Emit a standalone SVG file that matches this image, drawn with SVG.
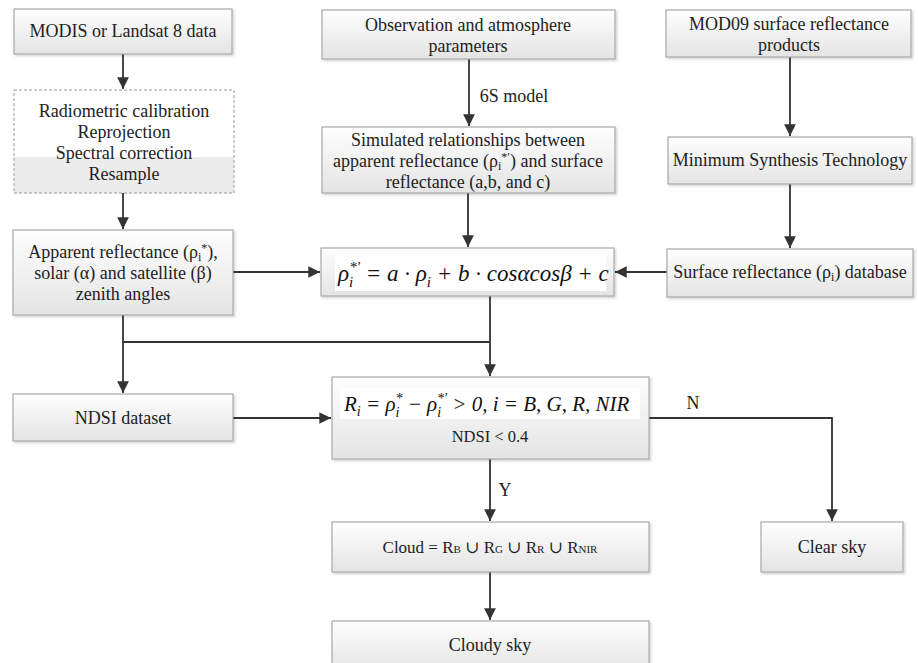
<svg xmlns="http://www.w3.org/2000/svg" width="918" height="663" viewBox="0 0 918 663">
<style>
.t{font-family:"Liberation Serif","DejaVu Serif",serif;font-size:18px;fill:#222;text-anchor:middle}
.m{font-family:"Liberation Serif","DejaVu Serif",serif;font-size:23px;font-style:italic;fill:#111}
.box{fill:url(#g);stroke:#a8a8a8;stroke-width:1.2;filter:url(#sh)}
.ln{fill:none;stroke:#333;stroke-width:1.8}
.ar{fill:none;stroke:#333;stroke-width:1.8;marker-end:url(#ah)}
</style>
<defs>
<linearGradient id="g" x1="0" y1="0" x2="0" y2="1">
<stop offset="0" stop-color="#fefefe"/>
<stop offset="1" stop-color="#e4e4e4"/>
</linearGradient>
<filter id="sh" x="-5%" y="-10%" width="112%" height="130%">
<feDropShadow dx="1.5" dy="1.5" stdDeviation="1" flood-color="#000" flood-opacity="0.18"/>
</filter>
<marker id="ah" viewBox="0 0 10 10" refX="10" refY="5" markerWidth="6.5" markerHeight="6.5" orient="auto" markerUnits="strokeWidth">
<path d="M0,0 L10,5 L0,10 z" fill="#333"/>
</marker>
</defs>
<rect width="918" height="663" fill="#fff"/>

<g id="connectors">
<path class="ar" d="M123,54 V89"/>
<path class="ar" d="M123,193 V229"/>
<path class="ar" d="M233,272 H320"/>
<path class="ar" d="M469,59 V126"/>
<path class="ar" d="M468,193 V247"/>
<path class="ar" d="M790,57 V136"/>
<path class="ar" d="M790,184 V248"/>
<path class="ar" d="M667,272 H615"/>
<path class="ar" d="M123,315 V393"/>
<path class="ln" d="M123,342 H490"/>
<path class="ar" d="M490,296 V376"/>
<path class="ar" d="M233,418 H331"/>
<path class="ar" d="M649,418 H832 V521"/>
<path class="ar" d="M490,459 V521"/>
<path class="ar" d="M490,572 V620"/>
<text class="t" x="514" y="102">6S model</text>
<text class="t" x="693" y="409">N</text>
<text class="t" x="505" y="496">Y</text>
</g>

<g id="n-modis">
<rect class="box" x="14" y="9" width="218" height="45"/>
<text class="t" x="123" y="37">MODIS or Landsat 8 data</text>
</g>

<g id="n-preprocess">
<rect x="14" y="157" width="220" height="36" fill="#ececec"/>
<rect x="14" y="90" width="220" height="103" fill="none" stroke="#999" stroke-width="1" stroke-dasharray="3,2"/>
<text class="t" x="124" y="117">Radiometric calibration</text>
<text class="t" x="124" y="138">Reprojection</text>
<text class="t" x="124" y="159">Spectral correction</text>
<text class="t" x="124" y="180">Resample</text>
</g>

<g id="n-apparent">
<rect class="box" x="13" y="230" width="220" height="85"/>
<text class="t" x="123" y="258">Apparent reflectance (ρ<tspan font-size="12" dy="3">i</tspan><tspan font-size="12" dy="-9">*</tspan><tspan dy="6">),</tspan></text>
<text class="t" x="123" y="279">solar (α) and satellite (β)</text>
<text class="t" x="123" y="300">zenith angles</text>
</g>

<g id="n-obs">
<rect class="box" x="322" y="10" width="293" height="49"/>
<text class="t" x="468" y="31">Observation and atmosphere</text>
<text class="t" x="468" y="52">parameters</text>
</g>

<g id="n-sim">
<rect class="box" x="322" y="127" width="293" height="66"/>
<text class="t" x="468" y="146">Simulated relationships between</text>
<text class="t" x="468" y="167">apparent reflectance (ρ<tspan font-size="12" dy="3">i</tspan><tspan font-size="12" dy="-9">*′</tspan><tspan dy="6">) and surface</tspan></text>
<text class="t" x="468" y="188">reflectance (a,b, and c)</text>
</g>

<g id="n-mod09">
<rect class="box" x="666" y="10" width="245" height="47"/>
<text class="t" x="789" y="30">MOD09 surface  reflectance</text>
<text class="t" x="789" y="51">products</text>
</g>

<g id="n-mst">
<rect class="box" x="668" y="137" width="244" height="47"/>
<text class="t" x="790" y="166">Minimum Synthesis Technology</text>
</g>

<g id="n-surface">
<rect class="box" x="667" y="249" width="246" height="48"/>
<text class="t" x="790" y="278">Surface reflectance (ρ<tspan font-size="12" dy="3">i</tspan><tspan dy="-3">) database</tspan></text>
</g>

<g id="n-formula">
<rect class="box" x="321" y="248" width="293" height="48"/>
<rect x="335" y="254" width="271" height="37" fill="#fff"/>
<text class="m" x="338" y="281">ρ<tspan font-size="15" dy="6">i</tspan><tspan font-size="15" dx="-4" dy="-15">*′</tspan><tspan dy="9"> = a · ρ</tspan><tspan font-size="15" dy="6">i</tspan><tspan dy="-6"> + b · cosαcosβ + c</tspan></text>
</g>

<g id="n-ndsi">
<rect class="box" x="13" y="394" width="220" height="47"/>
<text class="t" x="123" y="424">NDSI  dataset</text>
</g>

<g id="n-decision">
<rect class="box" x="332" y="377" width="317" height="82"/>
<rect x="340" y="388" width="300" height="31" fill="#fff"/>
<text class="m" x="344" y="411" style="font-size:21px">R<tspan font-size="14" dy="5">i</tspan><tspan dy="-5"> = ρ</tspan><tspan font-size="14" dy="6">i</tspan><tspan font-size="14" dx="-4" dy="-14">*</tspan><tspan dy="8"> − ρ</tspan><tspan font-size="14" dy="6">i</tspan><tspan font-size="14" dx="-4" dy="-14">*′</tspan><tspan dy="8"> &gt; 0, i = B, G, R, NIR</tspan></text>
<text class="t" x="490" y="442" style="font-size:16.5px">NDSI &lt; 0.4</text>
</g>

<g id="n-cloud">
<rect class="box" x="332" y="522" width="317" height="50"/>
<text class="t" x="490" y="553" style="font-size:17px">Cloud = R<tspan font-size="11">B</tspan> ∪  R<tspan font-size="11">G</tspan> ∪  R<tspan font-size="11">R</tspan> ∪  R<tspan font-size="11">NIR</tspan></text>
</g>

<g id="n-clear">
<rect class="box" x="761" y="522" width="142" height="50"/>
<text class="t" x="832" y="553">Clear sky</text>
</g>

<g id="n-cloudy">
<rect class="box" x="332" y="621" width="317" height="50"/>
<text class="t" x="490" y="651">Cloudy sky</text>
</g>
</svg>
